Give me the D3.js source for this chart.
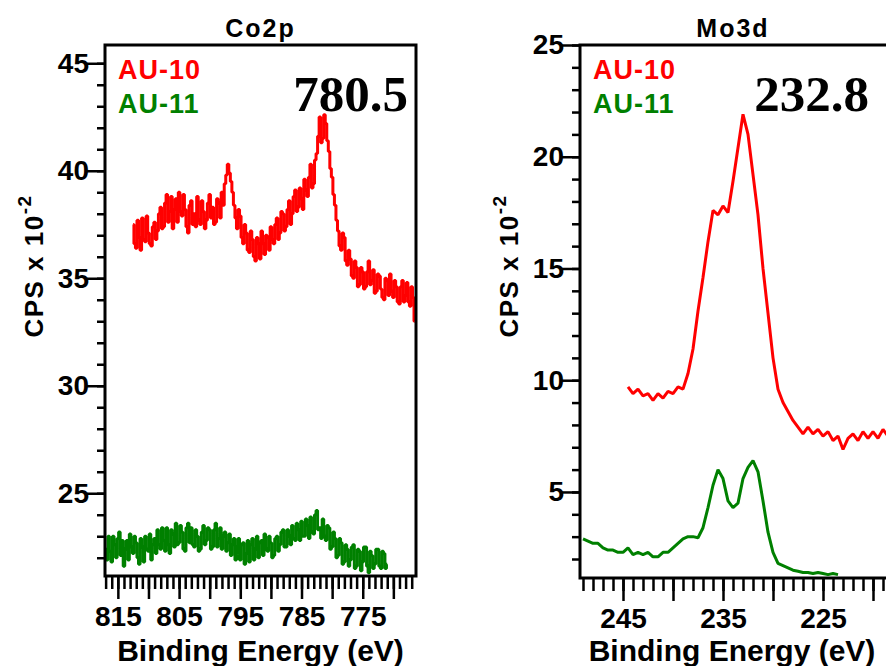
<!DOCTYPE html>
<html>
<head>
<meta charset="utf-8">
<script src="https://cdn.jsdelivr.net/npm/d3@7"></script>
<style>
  body { margin: 0; background: #fff; }
  text { font-family: "Liberation Sans", Arial, sans-serif; font-weight: bold; }
</style>
</head>
<body>
<div id="chart"></div>
<script>
// XPS spectra, values are CPS x 10^-2
// energies run from the first value downwards in fixed steps
const co2pAU10From = 812.5, co2pAU10Step = 0.25;
const co2pAU10 = [37.5, 36.6, 36.4, 37.7, 36.9, 36.3, 37.8, 36.8, 36.7, 37.9,
  37.1, 36.6, 36.5, 37.4, 37.6, 36.8, 37.2, 38.0, 38.3, 37.3,
  37.4, 38.5, 38.9, 37.6, 38.1, 38.8, 37.3, 38.2, 38.7, 37.6,
  39.0, 38.1, 37.9, 38.9, 38.2, 37.4, 37.1, 38.4, 38.6, 37.5,
  38.0, 37.4, 38.8, 37.7, 37.5, 38.6, 38.1, 37.3, 37.7, 38.5,
  38.9, 37.8, 38.3, 37.5, 37.6, 38.7, 38.5, 37.8, 39.0, 38.4,
  39.4, 39.8, 40.3, 39.9, 39.5, 39.0, 38.4, 37.8, 37.3, 38.2,
  37.9, 36.9, 36.6, 37.5, 37.1, 36.3, 36.2, 37.2, 36.8, 36.0,
  35.8, 36.9, 36.6, 35.9, 37.2, 36.6, 36.1, 37.0, 36.9, 36.3,
  37.4, 36.8, 36.6, 37.5, 37.8, 36.8, 37.1, 38.1, 38.0, 37.2,
  37.4, 38.2, 38.6, 37.5, 38.0, 38.8, 39.1, 38.1, 38.3, 39.2,
  38.7, 38.2, 39.6, 39.1, 38.8, 39.7, 40.3, 39.2, 39.4, 40.5,
  40.8, 41.6, 42.5, 41.3, 41.5, 42.6, 42.2, 41.4, 40.9, 40.1,
  39.7, 38.9, 38.4, 37.7, 37.2, 36.5, 36.3, 37.1, 36.9, 35.8,
  35.6, 36.3, 35.9, 35.1, 35.0, 35.8, 35.5, 34.6, 34.7, 35.5,
  35.3, 34.5, 34.6, 35.3, 35.8, 34.7, 34.9, 35.4, 34.3, 34.4,
  35.2, 35.1, 34.5, 34.1, 34.0, 35.0, 34.9, 34.2, 35.2, 34.4,
  34.1, 34.9, 34.6, 33.9, 33.8, 34.6, 34.9, 33.9, 34.2, 34.8,
  33.9, 33.7, 34.6, 34.1, 33.0];

const co2pAU11From = 817.0, co2pAU11Step = 0.25;
const co2pAU11 = [22.4, 21.9, 23.0, 22.3, 21.8, 23.0, 22.6, 22.0, 22.9, 23.2,
  22.1, 22.8, 21.6, 22.4, 22.8, 21.9, 23.1, 22.5, 22.2, 23.0,
  22.7, 22.0, 21.7, 22.9, 22.5, 21.8, 23.0, 22.4, 22.3, 23.1,
  21.9, 22.6, 22.9, 22.2, 23.3, 22.6, 22.4, 23.4, 22.8, 22.3,
  23.4, 22.6, 22.2, 23.3, 23.1, 22.5, 23.6, 22.6, 22.7, 23.5,
  23.2, 22.4, 22.3, 23.4, 23.6, 22.7, 23.4, 22.6, 22.5, 23.3,
  23.0, 22.3, 22.4, 23.2, 23.5, 22.6, 22.8, 23.4, 23.3, 22.4,
  22.5, 23.3, 23.6, 22.5, 22.9, 23.4, 22.4, 23.0, 23.2, 22.3,
  22.7, 23.1, 22.1, 22.6, 22.9, 21.9, 22.5, 22.9, 21.9, 22.6,
  22.7, 21.7, 22.2, 22.8, 21.8, 22.6, 22.9, 21.9, 22.4, 23.0,
  22.0, 22.7, 22.8, 22.1, 23.1, 22.4, 22.3, 23.0, 22.7, 22.0,
  22.1, 22.9, 23.0, 22.3, 22.6, 23.2, 23.3, 22.5, 22.5, 23.3,
  23.0, 22.6, 23.5, 22.9, 22.8, 23.6, 23.3, 22.8, 23.7, 23.0,
  23.0, 23.8, 23.5, 22.9, 23.9, 23.2, 23.1, 24.0, 24.2, 23.3,
  23.4, 22.9, 23.8, 23.0, 22.8, 23.5, 23.4, 22.4, 22.5, 23.2,
  22.9, 22.0, 22.1, 22.9, 22.7, 21.7, 21.8, 22.6, 22.4, 21.6,
  21.9, 22.5, 22.6, 21.5, 21.6, 22.4, 22.3, 21.4, 21.8, 22.5,
  22.5, 21.6, 21.3, 22.3, 22.1, 21.5, 21.7, 22.4, 22.4, 21.6,
  21.5, 22.3, 22.2, 21.5, 21.7];

const mo3dAU10From = 244.5, mo3dAU10Step = 0.5;
const mo3dAU10 = [9.7, 9.4, 9.6, 9.3, 9.4, 9.1, 9.4, 9.2, 9.5, 9.4,
  9.7, 9.6, 10.3, 11.4, 13.1, 14.6, 16.2, 17.6, 17.4, 17.8,
  17.5, 18.9, 20.4, 21.9, 21.0, 19.2, 17.4, 15.0, 13.0, 11.0,
  9.6, 9.0, 8.6, 8.2, 7.9, 7.6, 7.9, 7.6, 7.8, 7.5,
  7.7, 7.3, 7.5, 6.9, 7.4, 7.6, 7.3, 7.7, 7.4, 7.7,
  7.4, 7.8, 7.5];

const mo3dAU11From = 249.0, mo3dAU11Step = 0.5;
const mo3dAU11 = [2.9, 2.8, 2.7, 2.7, 2.5, 2.4, 2.4, 2.3, 2.3, 2.5,
  2.2, 2.3, 2.2, 2.3, 2.1, 2.1, 2.3, 2.3, 2.5, 2.7,
  2.9, 3.0, 3.0, 2.95, 3.4, 4.3, 5.3, 6.0, 5.6, 4.6,
  4.3, 4.5, 5.6, 6.1, 6.4, 5.9, 4.6, 3.2, 2.3, 1.8,
  1.7, 1.6, 1.5, 1.45, 1.4, 1.4, 1.35, 1.4, 1.35, 1.3,
  1.35, 1.3];

const co2pXLabels = [815, 805, 795, 785, 775];
const co2pYLabels = [25, 30, 35, 40, 45];
const mo3dXLabels = [245, 235, 225];
const mo3dYLabels = [5, 10, 15, 20, 25];

const seriesNames = ["AU-10", "AU-11"];
const seriesColors = ["#ff0000", "#008000"];

function toPoints(from, step, values) {
  return values.map((v, i) => ({ e: from - i * step, v: v }));
}

const width = 886, height = 666;

const svg = d3.select("#chart")
  .append("svg")
  .attr("width", width)
  .attr("height", height);

// one panel per core level
const panels = [
  {
    title: "Co2p", peak: "780.5",
    left: 105, right: 416, top: 45, bottom: 576,
    xDomain: [817.1, 766.3], yDomain: [21.15, 45.85],
    xLabels: co2pXLabels, yLabels: co2pYLabels,
    lineWidth: 3, curve: d3.curveStep,
    series: [toPoints(co2pAU10From, co2pAU10Step, co2pAU10),
             toPoints(co2pAU11From, co2pAU11Step, co2pAU11)]
  },
  {
    title: "Mo3d", peak: "232.8",
    left: 580, right: 890, top: 45, bottom: 578,
    xDomain: [249.3, 218.3], yDomain: [1.15, 25],
    xLabels: mo3dXLabels, yLabels: mo3dYLabels,
    lineWidth: 3, curve: d3.curveLinear,
    series: [toPoints(mo3dAU10From, mo3dAU10Step, mo3dAU10),
             toPoints(mo3dAU11From, mo3dAU11Step, mo3dAU11)]
  }
];

panels.forEach((p, k) => {
  const w = p.right - p.left;
  const h = p.bottom - p.top;
  const g = svg.append("g").attr("transform", `translate(${p.left},${p.top})`);

  const x = d3.scaleLinear().domain(p.xDomain).range([0, w]);
  const y = d3.scaleLinear().domain(p.yDomain).range([h, 0]);

  g.append("clipPath").attr("id", "clip" + k)
    .append("rect").attr("width", w).attr("height", h);

  // spectra
  const line = d3.line()
    .x(d => x(d.e))
    .y(d => y(d.v))
    .curve(p.curve);

  p.series.forEach((s, i) => {
    g.append("path")
      .datum(s)
      .attr("clip-path", `url(#clip${k})`)
      .attr("fill", "none")
      .attr("stroke", seriesColors[i])
      .attr("stroke-width", p.lineWidth)
      .attr("stroke-linejoin", "bevel")
      .attr("d", line);
  });

  // frame
  g.append("rect")
    .attr("width", w)
    .attr("height", h)
    .attr("fill", "none")
    .attr("stroke", "#000")
    .attr("stroke-width", 3);

  const lo = Math.min(...p.xDomain), hi = Math.max(...p.xDomain);
  const xMinor = d3.range(Math.ceil(lo), Math.floor(hi) + 1, 1);
  const xMajor = xMinor.filter(d => d % 5 === 0);
  const yMinor = d3.range(Math.ceil(p.yDomain[0]), Math.floor(p.yDomain[1]) + 1, 1);

  // x axis: minor, then major with labels every 10
  g.append("g")
    .attr("transform", `translate(0,${h})`)
    .call(d3.axisBottom(x).tickValues(xMinor).tickSize(13).tickFormat(""));

  g.append("g")
    .attr("transform", `translate(0,${h})`)
    .call(d3.axisBottom(x).tickValues(xMajor).tickSize(23).tickPadding(7)
      .tickFormat(d => p.xLabels.includes(d) ? d : ""));

  // y axis
  g.append("g")
    .call(d3.axisLeft(y).tickValues(yMinor).tickSize(8).tickFormat(""));

  g.append("g")
    .call(d3.axisLeft(y).tickValues(p.yLabels).tickSize(18).tickPadding(-2));

  g.selectAll(".domain").remove();
  g.selectAll(".tick line").attr("stroke", "#000").attr("stroke-width", 2.5);
  g.selectAll(".tick text")
    .attr("fill", "#000")
    .style("font-family", "'Liberation Sans', Arial, sans-serif")
    .style("font-weight", "bold")
    .style("font-size", "28px");

  // title
  svg.append("text")
    .attr("x", p.left + w / 2 - (k === 1 ? 2 : 0))
    .attr("y", 37)
    .attr("text-anchor", "middle")
    .attr("font-size", "25px")
    .attr("letter-spacing", "2px")
    .text(p.title);

  // x label
  svg.append("text")
    .attr("x", p.left + (k === 0 ? w / 2 : 152))
    .attr("y", 661)
    .attr("text-anchor", "middle")
    .attr("font-size", "30px")
    .text("Binding Energy (eV)");

  // y label
  const yl = svg.append("text")
    .attr("transform", `translate(${p.left - 62},266) rotate(-90)`)
    .attr("text-anchor", "middle")
    .attr("font-size", "26px")
    .attr("letter-spacing", "1.5px");
  yl.append("tspan").text("CPS x 10");
  yl.append("tspan").attr("dy", -12).attr("font-size", "19px").text("-2");

  // legend
  seriesNames.forEach((name, i) => {
    svg.append("text")
      .attr("x", p.left + 13)
      .attr("y", 79 + i * 34)
      .attr("font-size", "27px")
      .attr("letter-spacing", "1px")
      .attr("fill", seriesColors[i])
      .text(name);
  });

  // peak position
  svg.append("text")
    .attr("x", k === 0 ? p.left + 303 : p.left + 289)
    .attr("y", 111)
    .attr("text-anchor", "end")
    .style("font-family", "'Liberation Serif', 'Times New Roman', serif")
    .attr("font-size", "51px")
    .text(p.peak);
});
</script>
</body>
</html>
